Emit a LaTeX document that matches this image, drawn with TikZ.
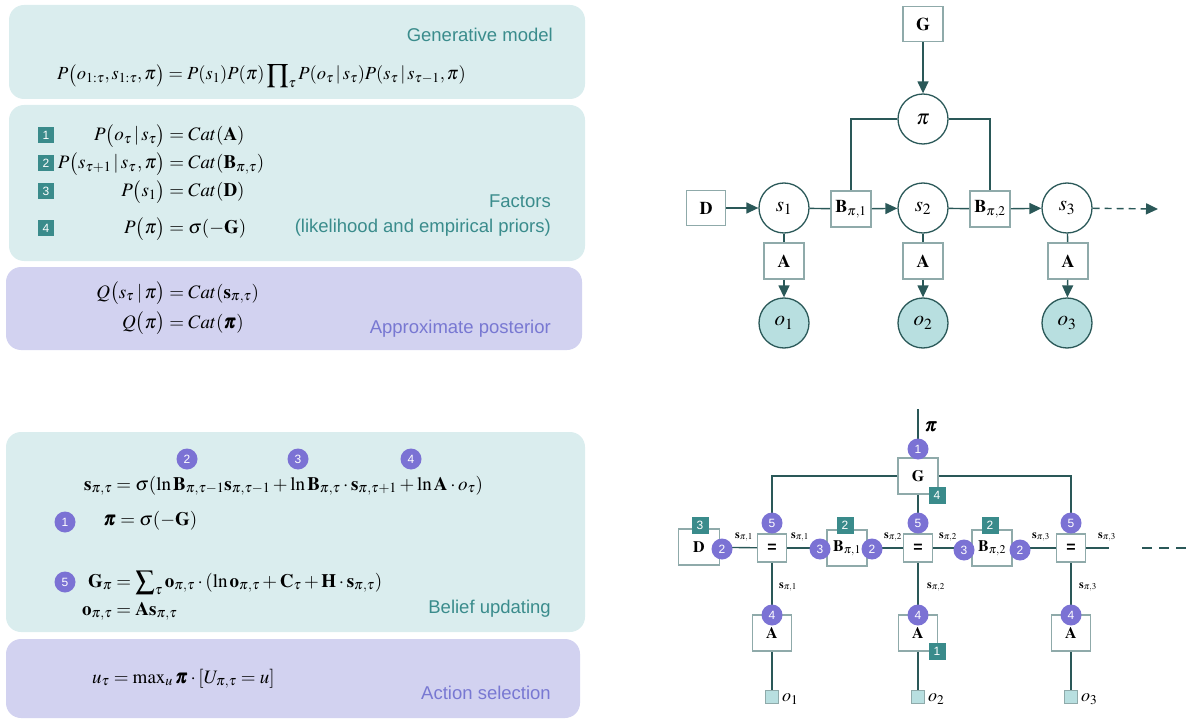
\documentclass[tikz,border=0pt]{standalone}
\usepackage{amsmath}
\usepackage{mathptmx}
\usepackage[no-math]{fontspec}
\setmainfont{Liberation Serif}
\setsansfont{Liberation Sans}
\usepackage{bm}
\usetikzlibrary{arrows.meta}
\definecolor{panelT}{HTML}{DAEDEE}
\definecolor{panelP}{HTML}{D2D2F0}
\definecolor{titleT}{HTML}{3A8C8C}
\definecolor{titleP}{HTML}{7878D2}
\definecolor{sqT}{HTML}{3A8B8B}
\definecolor{circP}{HTML}{7B72D4}
\definecolor{boxB}{HTML}{8FAAAA}
\definecolor{lineC}{HTML}{2A5858}
\definecolor{ofill}{HTML}{B8DFE0}
\newcommand{\gv}{\mskip2mu|\mskip2mu}
\tikzset{
  ttl/.style={font=\sffamily\fontsize{18.5}{22}\selectfont, anchor=base east, inner sep=0pt},
  eqr/.style={font=\fontsize{19}{23}\selectfont, anchor=base west, inner sep=0pt},
  numsq/.style={fill=sqT, text=white, font=\sffamily\fontsize{12}{12}\selectfont, minimum width=16pt, minimum height=16pt, inner sep=0pt},
  numci/.style={circle, fill=circP, text=white, font=\sffamily\fontsize{12}{12}\selectfont, minimum size=21pt, inner sep=0pt},
  fbox/.style={draw=boxB, line width=1.6pt, fill=white, inner sep=0pt, font=\fontsize{18}{20}\selectfont},
  vcirc/.style={circle, draw=lineC, line width=1.3pt, fill=white, minimum size=50pt, inner sep=0pt, font=\fontsize{21}{22}\selectfont},
  ocirc/.style={vcirc, fill=ofill},
  conn/.style={draw=lineC, line width=1.4pt},
  arr/.style={conn, -{Triangle[length=12pt,width=11pt]}},
  gbox/.style={draw=boxB, line width=1.5pt, fill=white, inner sep=0pt, font=\fontsize{16}{18}\selectfont},
  slab/.style={inner sep=0pt, font=\fontsize{12}{14}\selectfont},
}
% aligned equation: left part right-aligned in a box of given width
\newcommand{\aleq}[3]{\makebox[#1][r]{$#2$}$#3$}
\begin{document}
\begin{tikzpicture}[x=1pt,y=-1pt]
\useasboundingbox (0,0) rectangle (1193,719);
% ---------------- left panels
\fill[panelT, rounded corners=15pt] (9,5) rectangle (585,99);
\fill[panelT, rounded corners=15pt] (9,105) rectangle (585,261);
\fill[panelP, rounded corners=15pt] (6,267) rectangle (582,350);
\fill[panelT, rounded corners=15pt] (6,432) rectangle (585,632);
\fill[panelP, rounded corners=15pt] (6,639) rectangle (580,718);

\node[ttl, text=titleT] (t1) at (553,42) {Generative model};
\node[eqr, font=\fontsize{18.5}{22}\selectfont] (e1) at (57,80) {$P\bigl(o_{1:\tau},s_{1:\tau},\pi\bigr)=P(s_1)P(\pi)\displaystyle\prod\nolimits_\tau P(o_\tau\gv s_\tau)P(s_\tau\gv s_{\tau-1},\pi)$};

% factors
\node[numsq] (n1) at (46,135) {1};
\node[numsq] (n2) at (46,163) {2};
\node[numsq] (n3) at (46,191) {3};
\node[numsq] (n4) at (46,228) {4};
\node[eqr] (f1) at (62,141) {\aleq{103pt}{P\bigl(o_\tau\gv s_\tau\bigr)}{{}=Cat(\mathbf{A})}};
\node[eqr] (f2) at (62,169) {\aleq{103pt}{P\bigl(s_{\tau+1}\gv s_{\tau}\mskip1mu,\pi\bigr)}{{}=Cat(\mathbf{B}_{\pi,\tau})}};
\node[eqr] (f3) at (62,197) {\aleq{103pt}{P\bigl(s_1\bigr)}{{}=Cat(\mathbf{D})}};
\node[eqr] (f4) at (62,234) {\aleq{103pt}{P\bigl(\pi\bigr)}{{}=\sigma(-\mathbf{G})}};
\node[ttl, text=titleT] (t2a) at (551,208) {Factors};
\node[ttl, text=titleT] (t2b) at (551,233) {(likelihood and empirical priors)};

% posterior
\node[eqr] (q1) at (62,298) {\aleq{103pt}{Q\bigl(s_\tau\mskip1mu\gv\pi\bigr)}{{}=Cat(\mathbf{s}_{\pi,\tau})}};
\node[eqr] (q2) at (62,328) {\aleq{103pt}{Q\bigl(\pi\bigr)}{{}=Cat(\bm{\pi})}};
\node[ttl, text=titleP] (t3) at (551,333) {Approximate posterior};

% belief updating
\node[numci] (b2) at (187,459) {2};
\node[numci] (b3) at (298,459) {3};
\node[numci] (b4) at (411,459) {4};
\node[eqr] (u1) at (80,490) {\aleq{32pt}{\mathbf{s}_{\pi,\tau}}{{}=\sigma(\ln\mathbf{B}_{\pi,\tau-1}\mathbf{s}_{\pi,\tau-1}+\ln\mathbf{B}_{\pi,\tau}\cdot\mathbf{s}_{\pi,\tau+1}+\ln\mathbf{A}\cdot o_\tau)}};
\node[numci] (b1) at (65,522) {1};
\node[eqr] (u2) at (84,525) {\aleq{32pt}{\bm{\pi}}{{}=\sigma(-\mathbf{G})}};
\node[numci] (b5) at (65,582) {5};
\node[eqr] (u3) at (80,587) {\aleq{32pt}{\mathbf{G}_\pi}{{}=\displaystyle\sum\nolimits_\tau\mathbf{o}_{\pi,\tau}\cdot(\ln\mathbf{o}_{\pi,\tau}+\mathbf{C}_\tau+\mathbf{H}\cdot\mathbf{s}_{\pi,\tau})}};
\node[eqr] (u4) at (80,615) {\aleq{32pt}{\mathbf{o}_{\pi,\tau}}{{}=\mathbf{A}\mathbf{s}_{\pi,\tau}}};
\node[ttl, text=titleT] (t4) at (551,613) {Belief updating};

% action selection
\node[eqr] (a1) at (92,683) {$u_\tau=\max\nolimits_u\bm{\pi}\cdot[U_{\pi,\tau}=u]$};
\node[ttl, text=titleP] (t5) at (551,699) {Action selection};

% ---------------- top right graph
\node[fbox, minimum width=40pt, minimum height=35pt] (G1) at (923,24) {$\mathbf{G}$};
\node[vcirc] (pi) at (923,119) {$\pi$};
\node[fbox, minimum width=39pt, minimum height=35pt] (D1) at (706,208) {$\mathbf{D}$};
\node[vcirc] (s1) at (784,208) {$s_1$};
\node[vcirc] (s2) at (923,208) {$s_2$};
\node[vcirc] (s3) at (1067,208) {$s_3$};
\node[fbox, minimum width=40pt, minimum height=36pt] (B1) at (851,209) {$\mathbf{B}_{\pi,1}$};
\node[fbox, minimum width=40pt, minimum height=36pt] (B2) at (990,209) {$\mathbf{B}_{\pi,2}$};
\node[fbox, minimum width=40pt, minimum height=36pt] (A1) at (784,261) {$\mathbf{A}$};
\node[fbox, minimum width=40pt, minimum height=36pt] (A2) at (923,261) {$\mathbf{A}$};
\node[fbox, minimum width=40pt, minimum height=36pt] (A3) at (1068,261) {$\mathbf{A}$};
\node[ocirc] (o1) at (784,323) {$o_1$};
\node[ocirc] (o2) at (923,323) {$o_2$};
\node[ocirc] (o3) at (1067,323) {$o_3$};
\coordinate (dend) at (1158,209);

\draw[arr] (G1) -- (pi);
\draw[conn] (pi.west) -| (B1.north);
\draw[conn] (pi.east) -| (B2.north);
\draw[arr] (D1) -- (s1);
\draw[conn] (s1) -- (B1);
\draw[arr] (B1) -- (s2);
\draw[conn] (s2) -- (B2);
\draw[arr] (B2) -- (s3);
\draw[arr, dash pattern=on 7pt off 5pt] (s3) -- (dend);
\foreach \i in {1,2,3}{
  \draw[conn] (s\i) -- (A\i);
  \draw[arr] (A\i) -- (o\i);
}

% ---------------- bottom right factor graph
\coordinate (pitop) at (918,409);
\node[gbox, minimum width=40pt, minimum height=36pt] (G2) at (918,476) {$\mathbf{G}$};
\node[gbox, minimum width=41pt, minimum height=36pt] (D2) at (699,547) {$\mathbf{D}$};
\node[gbox, minimum width=29pt, minimum height=28pt, font=\sffamily\bfseries\fontsize{16}{16}\selectfont] (q1) at (772,548) {=};
\node[gbox, minimum width=29pt, minimum height=28pt, font=\sffamily\bfseries\fontsize{16}{16}\selectfont] (q2) at (918,548) {=};
\node[gbox, minimum width=29pt, minimum height=28pt, font=\sffamily\bfseries\fontsize{16}{16}\selectfont] (q3) at (1071,548) {=};
\node[gbox, minimum width=40pt, minimum height=36pt] (Bp1) at (847,548) {$\mathbf{B}_{\pi,1}$};
\node[gbox, minimum width=40pt, minimum height=36pt] (Bp2) at (992,548) {$\mathbf{B}_{\pi,2}$};
\node[gbox, minimum width=39pt, minimum height=36pt] (Aa1) at (772,633) {$\mathbf{A}$};
\node[gbox, minimum width=39pt, minimum height=36pt] (Aa2) at (918,633) {$\mathbf{A}$};
\node[gbox, minimum width=39pt, minimum height=36pt] (Aa3) at (1071,633) {$\mathbf{A}$};
\node[draw=boxB, line width=1.5pt, fill=ofill, minimum size=13pt, inner sep=0pt] (os1) at (772,697) {};
\node[draw=boxB, line width=1.5pt, fill=ofill, minimum size=13pt, inner sep=0pt] (os2) at (918,697) {};
\node[draw=boxB, line width=1.5pt, fill=ofill, minimum size=13pt, inner sep=0pt] (os3) at (1071,697) {};
\coordinate (rend) at (1109,548);
\coordinate (dl1) at (1142,548);
\coordinate (dl2) at (1193,548);

\draw[conn] (pitop) -- (G2.north);
\draw[conn] (G2.west) -| (q1.north);
\draw[conn] (G2.east) -| (q3.north);
\draw[conn] (G2.south) -- (q2.north);
\draw[conn] (D2) -- (q1);
\draw[conn] (q1) -- (Bp1);
\draw[conn] (Bp1) -- (q2);
\draw[conn] (q2) -- (Bp2);
\draw[conn] (Bp2) -- (q3);
\draw[conn] (q3) -- (rend);
\draw[conn, dash pattern=on 10pt off 7pt] (dl1) -- (dl2);
\foreach \i in {1,2,3}{
  \draw[conn] (q\i) -- (Aa\i);
  \draw[conn] (Aa\i) -- (os\i);
}

\node[inner sep=0pt, font=\fontsize{19}{20}\selectfont] (pil) at (931,427) {$\bm{\pi}$};
\node[slab] (l1) at (744,537) {$\mathbf{s}_{\pi,1}$};
\node[slab] (l2) at (800,537) {$\mathbf{s}_{\pi,1}$};
\node[slab] (l3) at (893,537) {$\mathbf{s}_{\pi,2}$};
\node[slab] (l4) at (948,537) {$\mathbf{s}_{\pi,2}$};
\node[slab] (l5) at (1041,537) {$\mathbf{s}_{\pi,3}$};
\node[slab] (l6) at (1107,537) {$\mathbf{s}_{\pi,3}$};
\node[slab] (v1) at (788,587) {$\mathbf{s}_{\pi,1}$};
\node[slab] (v2) at (936,587) {$\mathbf{s}_{\pi,2}$};
\node[slab] (v3) at (1088,587) {$\mathbf{s}_{\pi,3}$};
\node[anchor=west, inner sep=0pt, font=\fontsize{18}{18}\selectfont] (ol1) at (782,699) {$o_1$};
\node[anchor=west, inner sep=0pt, font=\fontsize{18}{18}\selectfont] (ol2) at (928,699) {$o_2$};
\node[anchor=west, inner sep=0pt, font=\fontsize{18}{18}\selectfont] (ol3) at (1081,699) {$o_3$};

% numbered markers
\node[numci] (g1) at (918,449) {1};
\node[numsq, minimum width=17pt, minimum height=17pt] (g4) at (937,495) {4};
\node[numci] (c5a) at (772,523) {5};
\node[numci] (c5b) at (918,523) {5};
\node[numci] (c5c) at (1071,523) {5};
\node[numsq, minimum width=17pt, minimum height=17pt] (d3) at (700,525) {3};
\node[numci] (d2c) at (722,549) {2};
\node[numsq, minimum width=17pt, minimum height=17pt] (bq1) at (845,525) {2};
\node[numci] (bc31) at (820,549) {3};
\node[numci] (bc21) at (872,549) {2};
\node[numsq, minimum width=17pt, minimum height=17pt] (bq2) at (990,525) {2};
\node[numci] (bc32) at (964,550) {3};
\node[numci] (bc22) at (1020,550) {2};
\node[numci] (c4a) at (772,615) {4};
\node[numci] (c4b) at (918,615) {4};
\node[numci] (c4c) at (1071,615) {4};
\node[numsq, minimum width=17pt, minimum height=17pt] (a1q) at (937,651) {1};
\end{tikzpicture}
\end{document}
